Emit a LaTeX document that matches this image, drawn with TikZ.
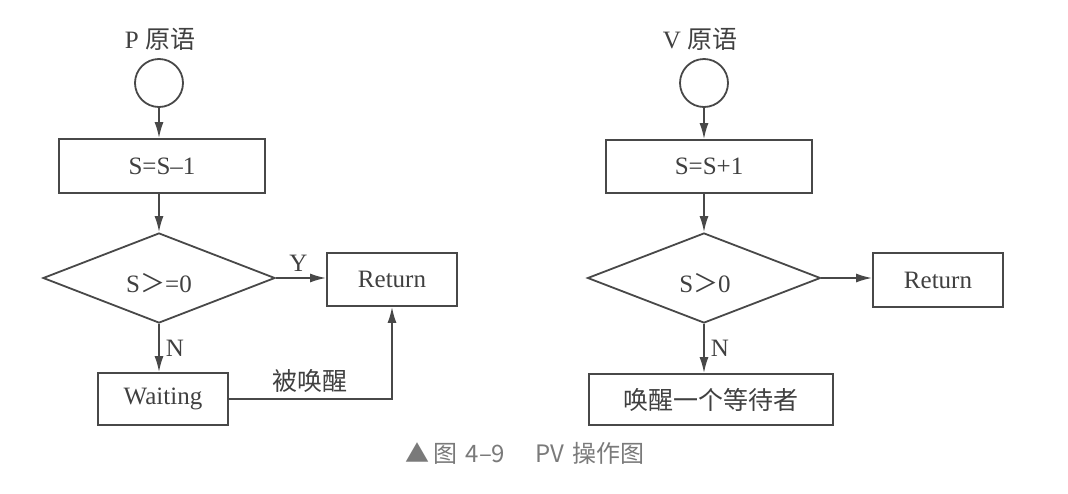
\documentclass[tikz,border=0pt]{standalone}
\usepackage{fontspec}
\setmainfont{Liberation Serif}
\newfontfamily\cjk{Noto Sans CJK SC}
\usetikzlibrary{shapes.geometric,arrows.meta}
\definecolor{ln}{HTML}{484848}
\definecolor{tx}{HTML}{404040}
\definecolor{cap}{HTML}{7a7a7a}
\begin{document}
\begin{tikzpicture}[x=1pt,y=-1pt,
  every node/.style={text=tx,font=\fontsize{25}{29}\selectfont,inner sep=0pt},
  proc/.style={draw=ln,line width=1.8pt,rectangle},
  dec/.style={draw=ln,line width=1.8pt,diamond,minimum width=232pt,minimum height=90pt},
  startc/.style={draw=ln,line width=1.8pt,circle,minimum size=48pt},
  flow/.style={draw=ln,line width=1.8pt,-{Latex[length=16pt,width=9pt]}},
  lbl/.style={font=\fontsize{25}{29}\selectfont}
]
\useasboundingbox[fill=white] (0,0) rectangle (1068,493);
% ---------- P primitive ----------
\node[lbl] (ptitle) at (160,39) {P {\cjk 原语}};
\node[startc] (pc) at (159,83) {};
\node[proc,minimum width=206pt,minimum height=54pt] (ps) at (162,166) {S=S--1};
\node[dec] (pd) at (159,278) {};
\node (pdt) at (159,283) {S{\cjk ＞}=0};
\node[proc,minimum width=130pt,minimum height=53pt] (pr) at (392,279.5) {Return};
\node[proc,minimum width=130pt,minimum height=52pt] (pw) at (163,399) {Waiting};
\draw[flow] (pc.south) -- (pc.south |- ps.north);
\draw[flow] (pc.south |- ps.south) -- (pd.north);
\draw[flow] (pd.east) -- (pr.west |- pd.east) node[lbl,pos=0.45,above=6pt] (py) {Y};
\draw[flow] (pd.south) -- (pd.south |- pw.north) node[lbl,midway,right=6pt] (pn) {N};
\draw[flow] (pw.east) -| (pr.south) node[lbl,pos=0.25,above=6pt] (pwk) {\cjk 被唤醒};
% ---------- V primitive ----------
\node[lbl] (vtitle) at (700,39) {V {\cjk 原语}};
\node[startc] (vc) at (704,83) {};
\node[proc,minimum width=206pt,minimum height=53pt] (vs) at (709,166.5) {S=S+1};
\node[dec,minimum width=233pt] (vd) at (704,278) {};
\node (vdt) at (705,283) {S{\cjk ＞}0};
\node[proc,minimum width=130pt,minimum height=54pt] (vr) at (938,280) {Return};
\node[proc,minimum width=244pt,minimum height=51pt] (vw) at (711,399.5) {\cjk 唤醒一个等待者};
\draw[flow] (vc.south) -- (vc.south |- vs.north);
\draw[flow] (vc.south |- vs.south) -- (vd.north);
\draw[flow] (vd.east) -- (vr.west |- vd.east);
\draw[flow] (vd.south) -- (vd.south |- vw.north) node[lbl,midway,right=6pt] (vn) {N};
% ---------- caption ----------
\node[text=cap,font=\fontsize{24}{28}\selectfont\cjk] (caption) at (525,453) {▲\hspace{4pt}图\hspace{3pt} 4–9\hspace{30pt}PV\hspace{3pt} 操作图};
\end{tikzpicture}
\end{document}
